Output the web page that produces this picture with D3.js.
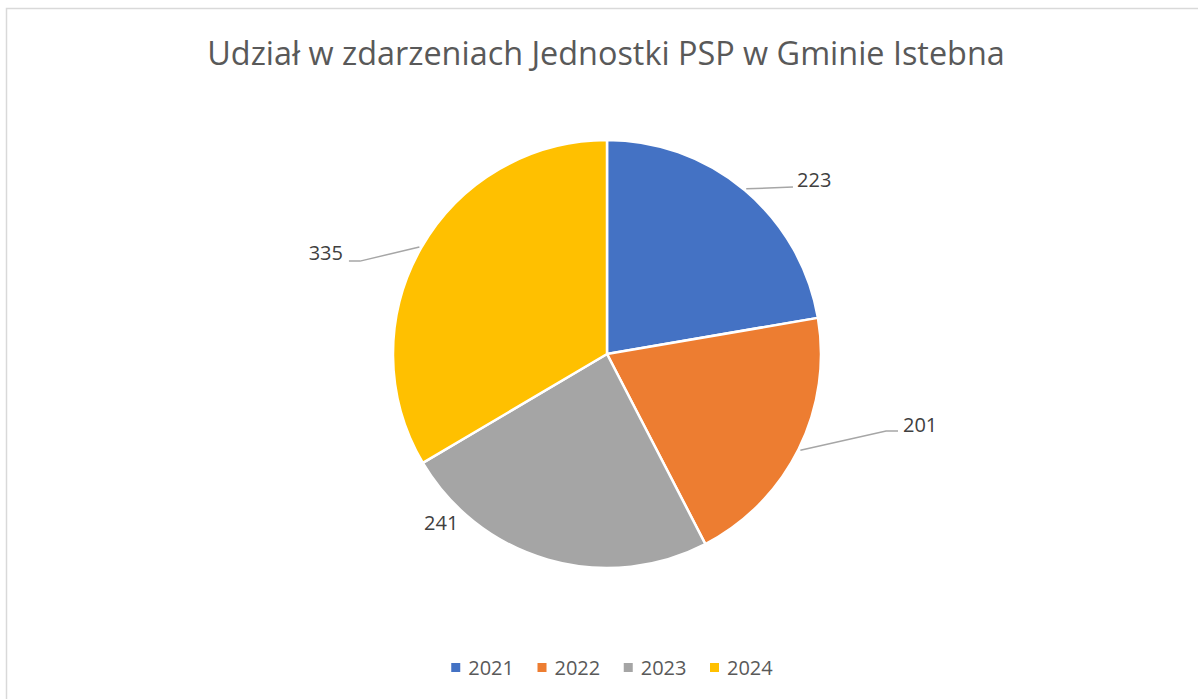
<!DOCTYPE html>
<html>
<head>
<meta charset="utf-8">
<script src="https://cdn.jsdelivr.net/npm/d3@7"></script>
<style>
  html, body { margin: 0; padding: 0; background: #fff; }
  svg { display: block; }
</style>
</head>
<body>
<svg id="chart" width="1198" height="699"></svg>
<script>
// ---- data ----
const title = "Udział w zdarzeniach Jednostki PSP w Gminie Istebna";
const categories = ["2021", "2022", "2023", "2024"];
const values = [223, 201, 241, 335];
const colors = ["#4472C4", "#ED7D31", "#A5A5A5", "#FFC000"];

// ---- label layout (offsets in units of pie radius, relative to centre) ----
// text: anchor point of label; elbow: bend of leader line; end: leader end (null = no leader)
const labelLayout = [
  { text: [0.888, -0.780], anchor: "start", elbow: [0.869, -0.780], end: null },
  { text: [1.383, 0.364],  anchor: "start", elbow: [1.304, 0.360],  end: [1.360, 0.360] },
  { text: [-0.855, 0.822], anchor: "start", elbow: null, end: null },
  { text: [-1.234, -0.439], anchor: "end", elbow: [-1.154, -0.434], end: [-1.206, -0.434] }
];

const W = 1198, H = 699;
const cx = 607, cy = 354, R = 214;
const font = "'Open Sans', 'Noto Sans', sans-serif";

const svg = d3.select("#chart");

// border
svg.append("rect")
  .attr("x", 6.5).attr("y", 8.5)
  .attr("width", W + 20).attr("height", H + 20)
  .attr("fill", "#fff")
  .attr("stroke", "#d9d9d9").attr("stroke-width", 1.5);

// title
const t = svg.append("text")
  .attr("x", 606).attr("y", 65)
  .attr("text-anchor", "middle")
  .attr("font-family", font)
  .attr("font-size", 30)
  .attr("fill", "#595959")
  .text(title);
const tw = t.node().getComputedTextLength();
t.attr("font-size", 30 * 798 / tw);

// pie
const pie = d3.pie().sort(null).startAngle(0).endAngle(2 * Math.PI);
const arcs = pie(values);
const arc = d3.arc().innerRadius(0).outerRadius(R);
const edgeArc = d3.arc().innerRadius(R + 2).outerRadius(R + 2);

const g = svg.append("g").attr("transform", `translate(${cx},${cy})`);

g.selectAll("path.slice")
  .data(arcs)
  .join("path")
  .attr("class", "slice")
  .attr("d", arc)
  .attr("fill", (d, i) => colors[i])
  .attr("stroke", "#fff")
  .attr("stroke-width", 2.5)
  .attr("stroke-linejoin", "round");

// leader lines
arcs.forEach((d, i) => {
  const L = labelLayout[i];
  if (!L.elbow) return;
  const p0 = edgeArc.centroid(d);
  const pts = [p0, [L.elbow[0] * R, L.elbow[1] * R]];
  if (L.end) pts.push([L.end[0] * R, L.end[1] * R]);
  g.append("path")
    .attr("d", d3.line()(pts))
    .attr("fill", "none")
    .attr("stroke", "#a6a6a6")
    .attr("stroke-width", 1.5);
});

// labels
g.selectAll("text.lbl")
  .data(arcs)
  .join("text")
  .attr("class", "lbl")
  .attr("x", (d, i) => labelLayout[i].text[0] * R)
  .attr("y", (d, i) => labelLayout[i].text[1] * R)
  .attr("text-anchor", (d, i) => labelLayout[i].anchor)
  .attr("font-family", font)
  .attr("font-size", 20)
  .attr("fill", "#404040")
  .text(d => d.data);

// legend
const legY = 675, sq = 9, gapSq = 8, gapItem = 23.5;
const lg = svg.append("g");
const items = categories.map((c, i) => {
  const gi = lg.append("g");
  gi.append("rect").attr("x", 0).attr("y", -12).attr("width", sq).attr("height", sq).attr("fill", colors[i]);
  const tx = gi.append("text").attr("x", sq + gapSq).attr("y", 0)
    .attr("font-family", font).attr("font-size", 20).attr("fill", "#595959").text(c);
  return { gi, w: sq + gapSq + tx.node().getComputedTextLength() };
});
const total = d3.sum(items, d => d.w) + gapItem * (items.length - 1);
let x0 = 612 - total / 2;
items.forEach(it => {
  it.gi.attr("transform", `translate(${x0},${legY})`);
  x0 += it.w + gapItem;
});
</script>
</body>
</html>
